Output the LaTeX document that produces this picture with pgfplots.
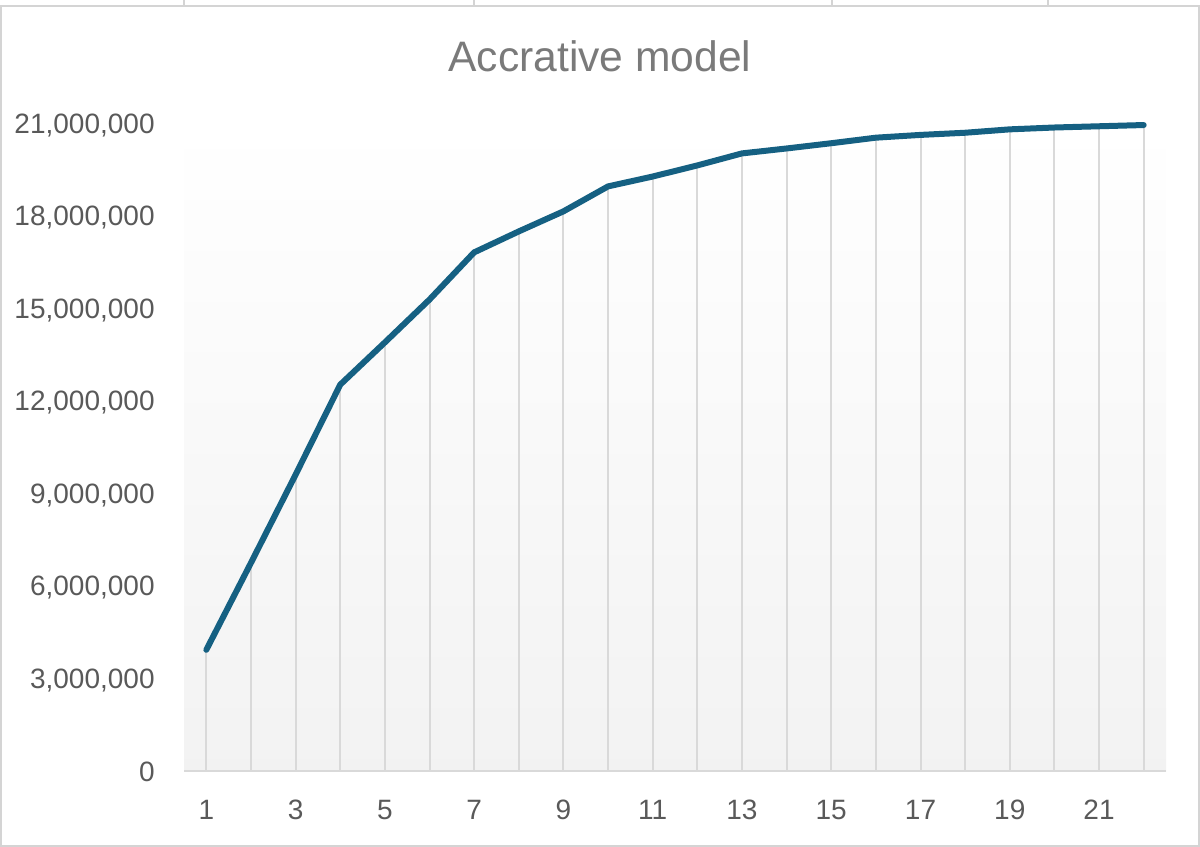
\documentclass[border=0pt]{standalone}
\usepackage{pgfplots}
\pgfplotsset{compat=1.18}
\usepackage{fontspec}
\setmainfont{Liberation Sans}
\definecolor{linec}{HTML}{156082}
\definecolor{tickc}{HTML}{595959}
\definecolor{titlec}{HTML}{7A7A7A}
\definecolor{gridc}{HTML}{D9D9D9}
\definecolor{framec}{HTML}{D4D4D4}
\begin{document}
\begin{tikzpicture}
\useasboundingbox (0,0) rectangle (600bp,423.5bp);
\draw[framec, line width=0.8bp] (0.5bp,0.5bp) rectangle (599.5bp,420.5bp);
\foreach \xx in {92,237,416,524}{\draw[framec, line width=0.6bp] (\xx bp,420.5bp) -- (\xx bp,423.5bp);}
\begin{axis}[
  at={(92bp,38bp)}, anchor=south west,
  scale only axis, width=491bp, height=323.75bp,
  xmin=0.5, xmax=22.5, ymin=0, ymax=21000000,
  clip=false,
  axis x line*=bottom,
  axis y line*=left,
  axis line style={draw=none},
  ytick={0,3000000,6000000,9000000,12000000,15000000,18000000,21000000},
  xtick={1,3,...,21},
  major tick length=0pt,
  scaled y ticks=false,
  /pgf/number format/.cd, fixed, 1000 sep={,}, assume math mode=true,
  /pgfplots/.cd,
  yticklabel style={font=\fontsize{14bp}{16bp}\selectfont, text=tickc, inner sep=0pt, anchor=base east, xshift=-14.5bp, yshift=-5bp},
  xticklabel style={font=\fontsize{14bp}{16bp}\selectfont, text=tickc, inner sep=0pt, anchor=center, yshift=-19.5bp},
  axis background/.style={shade, top color=white, bottom color=black!5},
]
\addplot[ycomb, draw=gridc, line width=1bp, mark=none, forget plot] table {
x y
1 3930000
2 6750000
3 9610000
4 12530000
5 13900000
6 15290000
7 16820000
8 17500000
9 18150000
10 18960000
11 19280000
12 19640000
13 20030000
14 20190000
15 20360000
16 20540000
17 20630000
18 20700000
19 20810000
20 20870000
21 20910000
22 20950000
};
\draw[gridc, line width=1bp] (axis cs:0.5,0) -- (axis cs:22.5,0);
\addplot[draw=linec, line width=3bp, line cap=round, line join=round, mark=none] table {
x y
1 3930000
2 6750000
3 9610000
4 12530000
5 13900000
6 15290000
7 16820000
8 17500000
9 18150000
10 18960000
11 19280000
12 19640000
13 20030000
14 20190000
15 20360000
16 20540000
17 20630000
18 20700000
19 20810000
20 20870000
21 20910000
22 20950000
};
\end{axis}
\node[font=\fontsize{21.3bp}{25bp}\selectfont, text=titlec, anchor=center] at (300bp,395.5bp) {Accrative model};
\end{tikzpicture}
\end{document}
